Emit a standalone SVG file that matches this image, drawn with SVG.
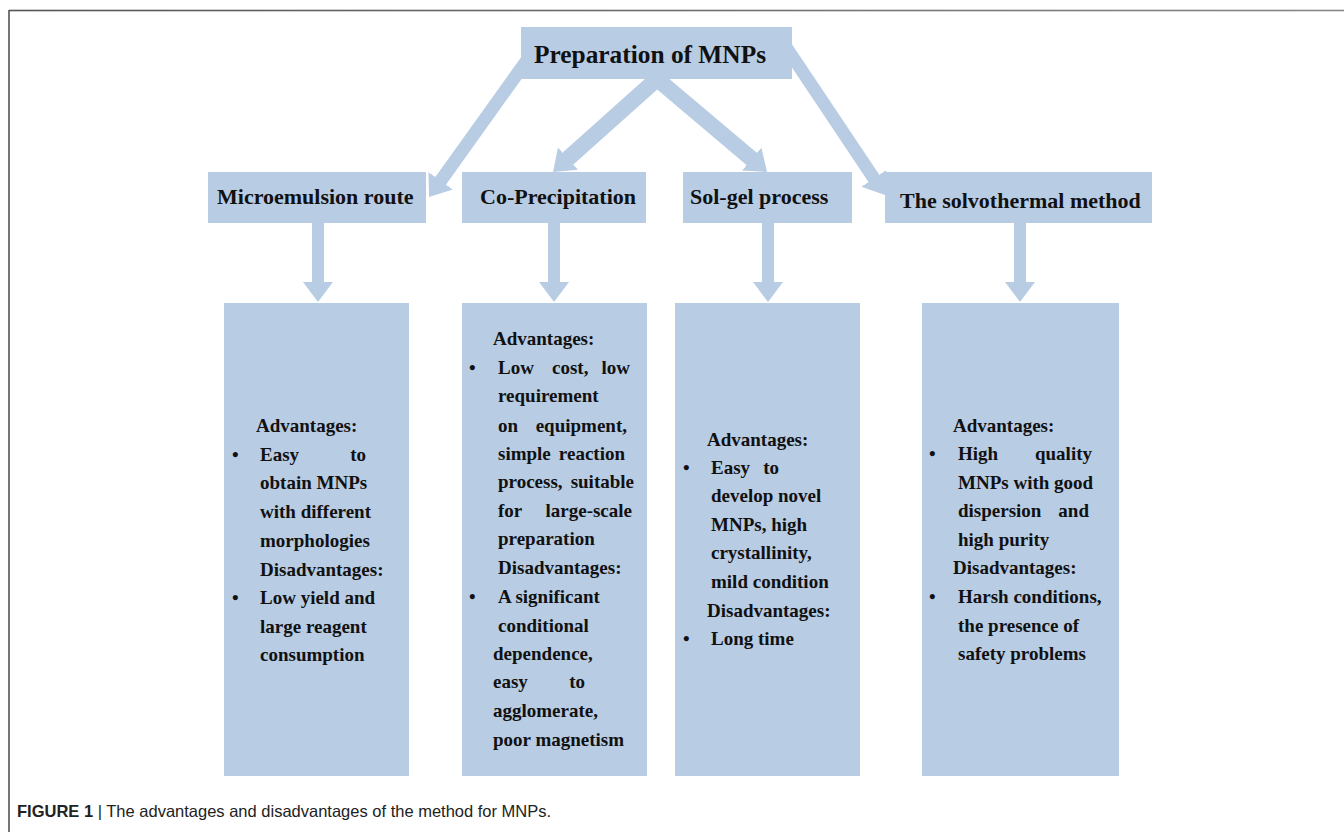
<svg xmlns="http://www.w3.org/2000/svg" width="1344" height="839" viewBox="0 0 1344 839">
<defs>
<marker id="head" markerUnits="userSpaceOnUse" markerWidth="22" markerHeight="32" viewBox="0 -16 22 32" refX="1" refY="0" orient="auto">
<path d="M0,-15 L20,0 L0,15 Z" fill="#b8cce4"/>
</marker>
<linearGradient id="frameGrad" gradientUnits="userSpaceOnUse" x1="9" y1="0" x2="1344" y2="0">
<stop offset="0" stop-color="#555"/>
<stop offset="1" stop-color="#888"/>
</linearGradient>
</defs>
<style>
.box{fill:#b8cce4;}
.hdr{font-family:"Liberation Serif","Times New Roman",serif;font-weight:bold;font-size:22px;fill:#111;}
.t{font-family:"Liberation Serif","Times New Roman",serif;font-weight:bold;font-size:19px;fill:#111;}
.e{text-anchor:end;}
.conn{stroke:#b8cce4;fill:none;marker-end:url(#head);}
.long{stroke-width:13;}
.mid{stroke-width:16;}
.vert{stroke-width:12;}
.cap{font-family:"Liberation Sans",Arial,sans-serif;font-size:16.5px;fill:#222;}
</style>
<rect width="1344" height="839" fill="#fff"/>
<g id="frame">
<rect x="9" y="9.7" width="1335" height="1.6" fill="url(#frameGrad)"/>
<rect x="8.2" y="10" width="1.6" height="822" fill="#555"/>
</g>
<g id="connectors">
<line class="conn long" x1="545" y1="35" x2="440.1" y2="181.6"/>
<line class="conn mid" x1="664.5" y1="72.3" x2="567.2" y2="159.3"/>
<line class="conn mid" x1="649.4" y1="72.5" x2="752.5" y2="159.7"/>
<line class="conn long" x1="778" y1="35" x2="874.4" y2="179.2"/>
<line class="conn vert" x1="318" y1="220" x2="318" y2="283"/>
<line class="conn vert" x1="554" y1="220" x2="554" y2="283"/>
<line class="conn vert" x1="768" y1="220" x2="768" y2="283"/>
<line class="conn vert" x1="1020" y1="220" x2="1020" y2="283"/>
</g>
<g id="node-root">
<rect class="box" x="521" y="27" width="271" height="52"/>
<text class="hdr" x="534" y="63" style="font-size:26px" textLength="232" lengthAdjust="spacingAndGlyphs">Preparation of MNPs</text>
</g>
<g id="node-microemulsion">
<rect class="box" x="208" y="172" width="218" height="51"/>
<text class="hdr" x="217" y="204">Microemulsion route</text>
</g>
<g id="node-coprecipitation">
<rect class="box" x="462" y="172" width="184" height="51"/>
<text class="hdr" x="480" y="204">Co-Precipitation</text>
</g>
<g id="node-solgel">
<rect class="box" x="683" y="172" width="169" height="51"/>
<text class="hdr" x="690" y="204">Sol-gel process</text>
</g>
<g id="node-solvothermal">
<rect class="box" x="885" y="172" width="267" height="51"/>
<text class="hdr" x="900" y="208">The solvothermal method</text>
</g>
<g id="detail-microemulsion">
<rect class="box" x="224" y="303" width="185" height="473"/>
<text class="t" x="256" y="432">Advantages:</text>
<text class="t" x="232" y="461">•</text>
<text class="t" x="260" y="461">Easy</text>
<text class="t e" x="366" y="461">to</text>
<text class="t" x="260" y="489">obtain MNPs</text>
<text class="t" x="260" y="518">with different</text>
<text class="t" x="260" y="547">morphologies</text>
<text class="t" x="260" y="576">Disadvantages:</text>
<text class="t" x="232" y="604">•</text>
<text class="t" x="260" y="604">Low yield and</text>
<text class="t" x="260" y="633">large reagent</text>
<text class="t" x="260" y="661">consumption</text>
</g>
<g id="detail-coprecipitation">
<rect class="box" x="462" y="303" width="185" height="473"/>
<text class="t" x="493" y="345">Advantages:</text>
<text class="t" x="469" y="374">•</text>
<text class="t" x="498" y="374">Low</text>
<text class="t" x="552" y="374">cost,</text>
<text class="t e" x="630" y="374">low</text>
<text class="t" x="498" y="402">requirement</text>
<text class="t" x="498" y="432">on</text>
<text class="t e" x="627" y="432">equipment,</text>
<text class="t" x="498" y="460">simple</text>
<text class="t e" x="625" y="460">reaction</text>
<text class="t" x="498" y="488">process,</text>
<text class="t e" x="634" y="488">suitable</text>
<text class="t" x="498" y="517">for</text>
<text class="t e" x="632" y="517">large-scale</text>
<text class="t" x="498" y="545">preparation</text>
<text class="t" x="498" y="574">Disadvantages:</text>
<text class="t" x="469" y="603">•</text>
<text class="t" x="498" y="603">A significant</text>
<text class="t" x="498" y="632">conditional</text>
<text class="t" x="493" y="660">dependence,</text>
<text class="t" x="493" y="688">easy</text>
<text class="t e" x="585" y="688">to</text>
<text class="t" x="493" y="717">agglomerate,</text>
<text class="t" x="493" y="746">poor magnetism</text>
</g>
<g id="detail-solgel">
<rect class="box" x="675" y="303" width="185" height="473"/>
<text class="t" x="707" y="446">Advantages:</text>
<text class="t" x="683" y="474">•</text>
<text class="t" x="711" y="474">Easy</text>
<text class="t e" x="779" y="474">to</text>
<text class="t" x="711" y="502">develop novel</text>
<text class="t" x="711" y="531">MNPs, high</text>
<text class="t" x="711" y="559">crystallinity,</text>
<text class="t" x="711" y="588">mild condition</text>
<text class="t" x="707" y="617">Disadvantages:</text>
<text class="t" x="683" y="645">•</text>
<text class="t" x="711" y="645">Long time</text>
</g>
<g id="detail-solvothermal">
<rect class="box" x="922" y="303" width="197" height="473"/>
<text class="t" x="953" y="432">Advantages:</text>
<text class="t" x="929" y="460">•</text>
<text class="t" x="958" y="460">High</text>
<text class="t e" x="1092" y="460">quality</text>
<text class="t" x="958" y="489">MNPs with good</text>
<text class="t" x="958" y="517">dispersion</text>
<text class="t e" x="1089" y="517">and</text>
<text class="t" x="958" y="546">high purity</text>
<text class="t" x="953" y="574">Disadvantages:</text>
<text class="t" x="929" y="603">•</text>
<text class="t" x="958" y="603">Harsh conditions,</text>
<text class="t" x="958" y="632">the presence of</text>
<text class="t" x="958" y="660">safety problems</text>
</g>
<g id="caption">
<text class="cap" x="17" y="817"><tspan font-weight="bold">FIGURE 1</tspan> | The advantages and disadvantages of the method for MNPs.</text>
</g>
</svg>
